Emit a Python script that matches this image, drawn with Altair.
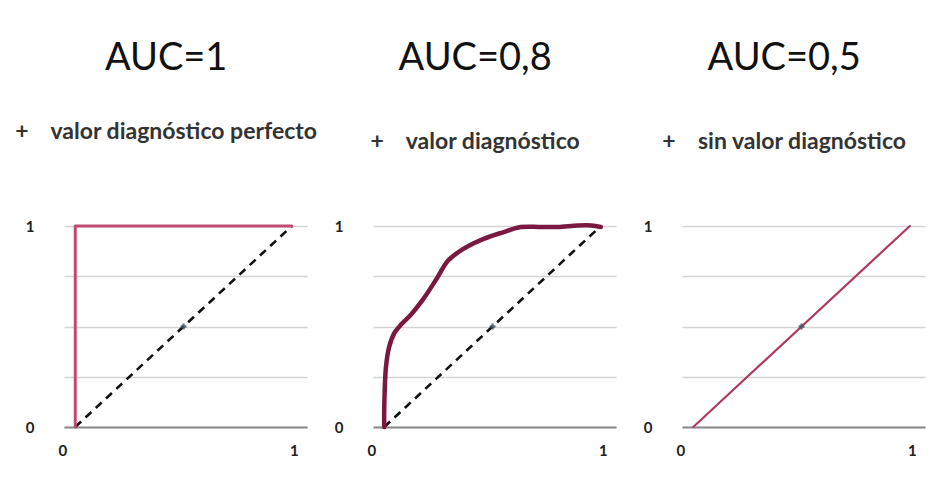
import altair as alt
import pandas as pd

# ---- data ----
NB = "\u00a0"
titles = ["AUC=1", "AUC=0,8", "AUC=0,5"]
subtitles = ["+" + NB * 4 + "valor diagnóstico perfecto",
             "+" + NB * 4 + "valor diagnóstico",
             "+" + NB * 4 + "sin valor diagnóstico"]

perfect_x = [0.0, 0.0, 1.0]
perfect_y = [0.0, 1.0, 1.0]

good_x = [0.0, 0.0, 0.008, 0.023, 0.047, 0.078, 0.124, 0.179, 0.241, 0.295, 0.365,
          0.459, 0.552, 0.63, 0.723, 0.80, 0.894, 0.956, 1.0]
good_y = [0.0, 0.10, 0.30, 0.40, 0.468, 0.51, 0.56, 0.635, 0.736, 0.828, 0.886,
          0.936, 0.970, 0.995, 0.995, 0.995, 1.003, 1.003, 0.995]

none_x = [0.0, 1.0]
none_y = [0.0, 1.0]

diag_x = [0.0, 1.0]
diag_y = [0.0, 1.0]

mid_x = [0.5]
mid_y = [0.5]

curve_colors = ["#c04a72", "#7a1840", "#b03a5c"]
curve_widths = [3, 4.5, 2.2]
curve_interp = ["linear", "catmull-rom", "linear"]

FONT = "Lato"
XDOM = [-0.052, 1.07]


def panel(i, cx, cy, show_diag, sub_pad, offset):
    xs = alt.Scale(domain=XDOM, nice=False, zero=False)
    ys = alt.Scale(domain=[0, 1], nice=False)
    xaxis = alt.Axis(values=[0, 1], grid=False, ticks=False, domain=True,
                     domainColor="#8a8a8a", domainWidth=2, labelFont=FONT,
                     labelFontWeight="bold", labelFontSize=15, labelColor="#222",
                     labelPadding=16, labelFlush=False,
                     labelAlign="center",
                     labelOffset={"condition": {"test": "datum.value < 0.5", "value": -13},
                                  "value": 2},
                     labelExpr="datum.value == 0 ? '0' : '1'",
                     title=None)
    yaxis = alt.Axis(values=[0, 0.25, 0.5, 0.75, 1], grid=True, gridColor="#d4d4d4",
                     gridWidth=1.6, ticks=False, domain=False, labelFont=FONT,
                     labelFontWeight="bold", labelFontSize=15, labelColor="#222",
                     labelPadding=30, labelFlush=False,
                     labelExpr="datum.value == 0 ? '0' : (datum.value == 1 ? '1' : '')",
                     title=None)

    base_df = pd.DataFrame({"x": cx, "y": cy, "o": list(range(len(cx)))})
    curve = alt.Chart(base_df).mark_line(
        color=curve_colors[i], strokeWidth=curve_widths[i], strokeJoin="round",
        strokeCap="round", clip=False, interpolate=curve_interp[i]
    ).encode(
        x=alt.X("x:Q", scale=xs, axis=xaxis),
        y=alt.Y("y:Q", scale=ys, axis=yaxis),
        order="o:Q",
    )
    layers = []
    if show_diag:
        diag = alt.Chart(pd.DataFrame({"x": diag_x, "y": diag_y})).mark_line(
            color="#111", strokeWidth=2.6, strokeDash=[8, 6]
        ).encode(x=alt.X("x:Q", scale=xs), y=alt.Y("y:Q", scale=ys))
        layers.append(diag)
    layers.append(curve)
    mid = alt.Chart(pd.DataFrame({"x": mid_x, "y": mid_y})).mark_point(
        shape="cross", size=34, color="#4a5560", filled=True, opacity=0.85
    ).encode(x=alt.X("x:Q", scale=xs), y=alt.Y("y:Q", scale=ys))
    layers.append(mid)

    return alt.layer(*layers).properties(
        width=243, height=201,
        title=alt.TitleParams(
            text=titles[i], subtitle=subtitles[i], anchor="middle", frame="bounds",
            font=FONT, fontSize=38, fontWeight="normal", color="#111",
            subtitleFont=FONT, subtitleFontSize=23, subtitleFontWeight="bold",
            subtitleColor="#333", subtitlePadding=sub_pad, offset=offset,
        ),
    )


p1 = panel(0, perfect_x, perfect_y, True, 43, 75)
p2 = panel(1, good_x, good_y, True, 53, 65)
p3 = panel(2, none_x, none_y, False, 53, 65)

chart = alt.hconcat(p1, p2, p3, spacing=66, bounds="flush").properties(
    padding={"left": 7, "top": 32, "right": 5, "bottom": 5}
).configure(background="white").configure_view(stroke=None)

chart.save("out.html", embed_options={"renderer": "svg", "actions": False})
